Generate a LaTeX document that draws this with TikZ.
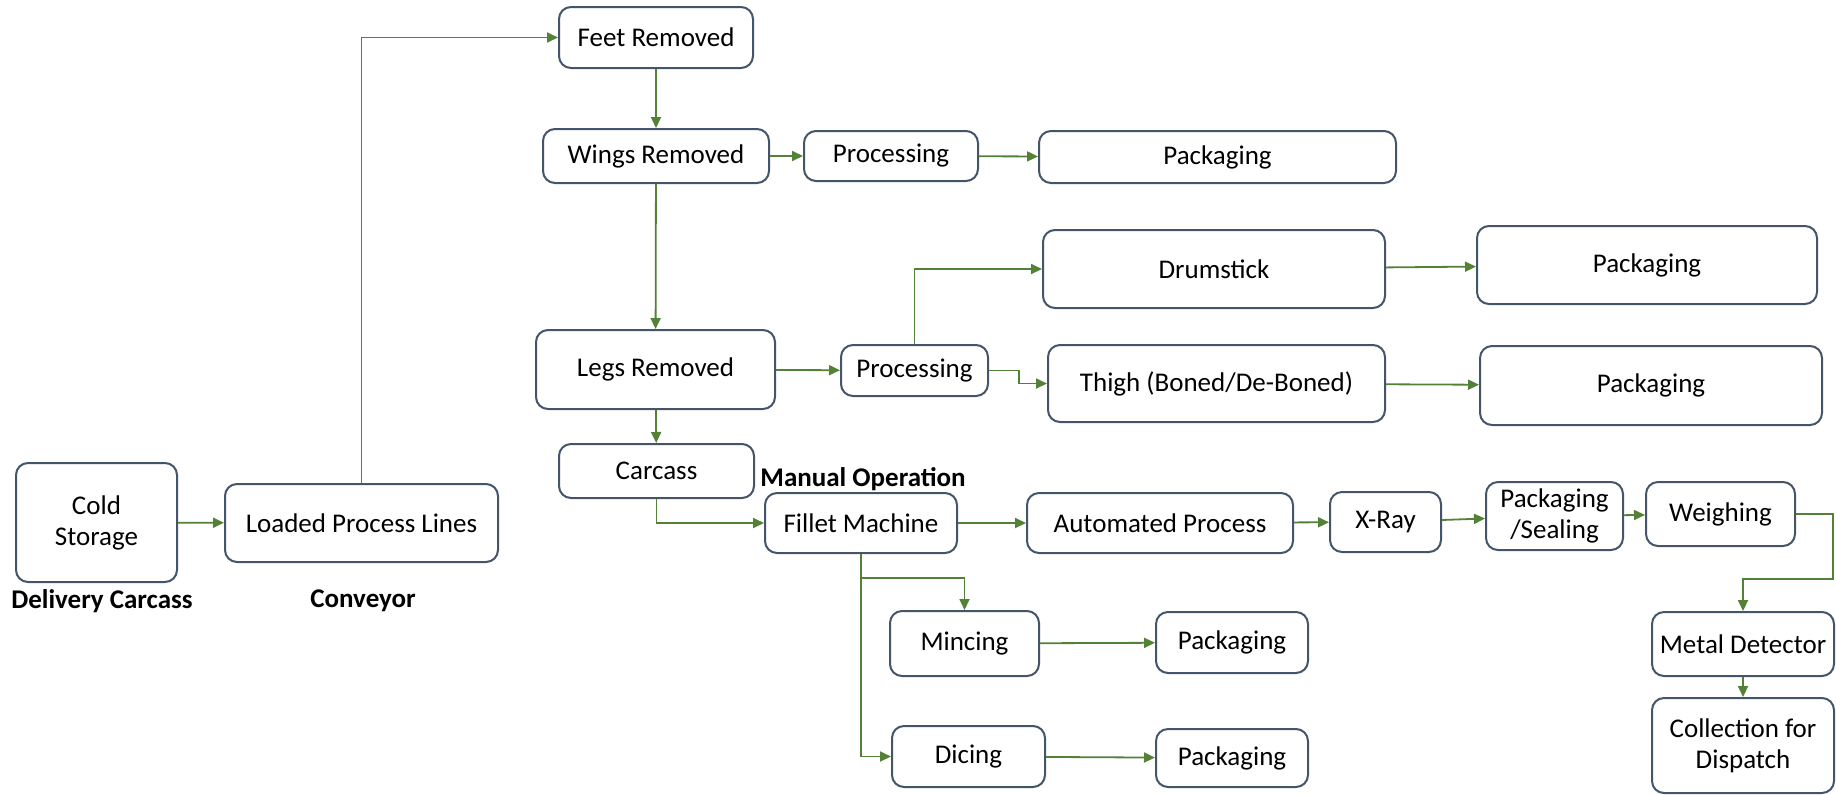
\documentclass[tikz,border=0pt]{standalone}
\usepackage{fontspec}
\setmainfont{Carlito}
\usetikzlibrary{arrows.meta}

\definecolor{boxline}{HTML}{44546A}
\definecolor{flowgreen}{HTML}{538135}

\tikzstyle{flowfig}=[x=0.5pt,y=-0.5pt,font=\fontsize{13.5}{15.5}\selectfont]
\tikzstyle{stage}=[draw=boxline,line width=1pt,rounded corners=6pt,inner sep=0pt,align=center,fill=white]
\tikzstyle{tag}=[font=\fontsize{13.5}{15.5}\selectfont\bfseries,inner sep=0pt]
\tikzstyle{flow}=[draw=flowgreen,line width=0.9pt,-{Triangle[length=5.5pt,width=5pt]}]

\begin{document}
\begin{tikzpicture}[style=flowfig]
\useasboundingbox (0,0) rectangle (1836,794);

\node[stage,minimum width=80.5pt,minimum height=59.5pt] (cold) at (96.5,522.5) {Cold\\Storage};
\node[stage,minimum width=136.5pt,minimum height=39pt] (loaded) at (361.5,523) {Loaded Process Lines};
\node[tag] (delivery) at (102,601) {Delivery Carcass};
\node[tag] (conveyor) at (363,601) {Conveyor};

\node[stage,minimum width=97pt,minimum height=30.5pt] (feet) at (656,37.5) {Feet Removed};
\node[stage,minimum width=113pt,minimum height=27pt] (wings) at (656,156) {Wings Removed};
\node[stage,minimum width=87pt,minimum height=25pt] (proca) at (891,156) {Processing};
\node[stage,minimum width=178.5pt,minimum height=26pt] (packa) at (1217.5,157) {Packaging};

\node[stage,minimum width=119.5pt,minimum height=39.5pt] (legs) at (655.5,369.5) {Legs Removed};
\node[stage,minimum width=73.5pt,minimum height=25.5pt] (procb) at (914.5,370.5) {Processing};
\node[stage,minimum width=171pt,minimum height=39pt] (drum) at (1214,269) {Drumstick};
\node[stage,minimum width=170pt,minimum height=39pt] (packb) at (1647,265) {Packaging};
\node[stage,minimum width=168.5pt,minimum height=38.5pt] (thigh) at (1216.5,383.5) {Thigh (Boned/De-Boned)};
\node[stage,minimum width=171pt,minimum height=39.5pt] (packc) at (1651,385.5) {Packaging};

\node[stage,minimum width=97.5pt,minimum height=27pt] (carcass) at (656.5,471) {Carcass};
\node[tag] (manual) at (863,479) {Manual Operation};
\node[stage,minimum width=96pt,minimum height=30pt] (fillet) at (861,523) {Fillet Machine};
\node[stage,minimum width=133pt,minimum height=30pt] (auto) at (1160,523) {Automated Process};
\node[stage,minimum width=55.5pt,minimum height=30pt] (xray) at (1385.5,522) {X-Ray};
\node[stage,minimum width=68.5pt,minimum height=34pt] (seal) at (1554.5,516) {Packaging\\/Sealing};
\node[stage,minimum width=74.5pt,minimum height=32pt] (weigh) at (1720.5,514) {Weighing};
\node[stage,minimum width=91pt,minimum height=32pt] (metal) at (1743,644) {Metal Detector};
\node[stage,minimum width=91pt,minimum height=47.5pt] (dispatch) at (1743,745.5) {Collection for\\Dispatch};

\node[stage,minimum width=74.5pt,minimum height=32.5pt] (mince) at (964.5,643.5) {Mincing};
\node[stage,minimum width=76pt,minimum height=30.5pt] (packm) at (1232,642.5) {Packaging};
\node[stage,minimum width=76.5pt,minimum height=30.5pt] (dice) at (968.5,756.5) {Dicing};
\node[stage,minimum width=76pt,minimum height=29pt] (packd) at (1232,758) {Packaging};

\draw[flow] (cold) -- (loaded);
\draw[flow] (loaded.north) |- (feet.west);
\draw[flow] (feet) -- (wings);
\draw[flow] (wings) -- (proca);
\draw[flow] (proca) -- (packa);
\draw[flow] (wings) -- (legs);
\draw[flow] (legs) -- (procb);
\draw[flow] (procb.north) |- (drum.west);
\draw[flow] (procb.east) -- ++(30,0) |- (thigh.west);
\draw[flow] (drum) -- (packb);
\draw[flow] (thigh) -- (packc);
\draw[flow] (legs) -- (carcass);
\draw[flow] (carcass.south) |- (fillet.west);
\draw[flow] (fillet) -- (auto);
\draw[flow] (auto) -- (xray);
\draw[flow] (xray) -- (seal);
\draw[flow] (seal) -- (weigh);
\draw[flow] (weigh.east) -- ++(37,0) -- ++(0,65) -| (metal.north);
\draw[flow] (metal) -- (dispatch);
\draw[flow] (fillet.south) -- ++(0,24) -| (mince.north);
\draw[flow] (fillet.south) |- (dice.west);
\draw[flow] (mince) -- (packm);
\draw[flow] (dice) -- (packd);
\end{tikzpicture}
\end{document}
